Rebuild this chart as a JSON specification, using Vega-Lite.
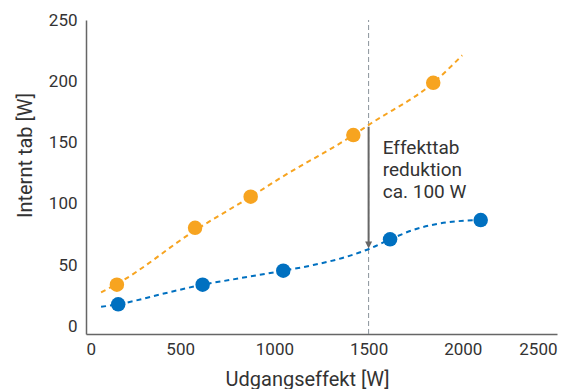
{
  "$schema": "https://vega.github.io/schema/vega-lite/v6.json",
  "width": 471,
  "height": 314,
  "autosize": {"type": "none"},
  "padding": {"left": 86, "top": 20, "right": 20, "bottom": 55},
  "config": {
    "font": "Roboto",
    "view": {"stroke": null},
    "axis": {
      "domainColor": "#666666",
      "domainWidth": 1.5,
      "ticks": false,
      "grid": false,
      "labelFont": "Roboto",
      "labelFontSize": 17,
      "labelColor": "#333333",
      "titleFont": "Roboto",
      "titleFontSize": 20,
      "titleFontWeight": "normal",
      "titleColor": "#333333"
    }
  },
  "datasets": {
    "points": [
      {"series": "Før", "x": 164, "y": 34.2},
      {"series": "Før", "x": 579, "y": 80.6},
      {"series": "Før", "x": 874, "y": 105.9},
      {"series": "Før", "x": 1419, "y": 156.2},
      {"series": "Før", "x": 1843, "y": 198.8},
      {"series": "Efter", "x": 171, "y": 18.2},
      {"series": "Efter", "x": 619, "y": 34.2},
      {"series": "Efter", "x": 1047, "y": 45.6},
      {"series": "Efter", "x": 1614, "y": 71.2},
      {"series": "Efter", "x": 2095, "y": 86.9}
    ],
    "fits": [
      {"series": "Før", "x": 80, "y": 28.0},
      {"series": "Før", "x": 164, "y": 34.8},
      {"series": "Før", "x": 579, "y": 78.5},
      {"series": "Før", "x": 874, "y": 105.9},
      {"series": "Før", "x": 1030, "y": 121},
      {"series": "Før", "x": 1419, "y": 156.2},
      {"series": "Før", "x": 1516, "y": 166},
      {"series": "Før", "x": 1843, "y": 198.8},
      {"series": "Før", "x": 1997, "y": 221.2},
      {"series": "Efter", "x": 80, "y": 16.2},
      {"series": "Efter", "x": 171, "y": 18.2},
      {"series": "Efter", "x": 400, "y": 26.5},
      {"series": "Efter", "x": 619, "y": 34.2},
      {"series": "Efter", "x": 780, "y": 38.5},
      {"series": "Efter", "x": 1047, "y": 45.6},
      {"series": "Efter", "x": 1206, "y": 50.2},
      {"series": "Efter", "x": 1383, "y": 57},
      {"series": "Efter", "x": 1509, "y": 63.8},
      {"series": "Efter", "x": 1614, "y": 71.2},
      {"series": "Efter", "x": 1737, "y": 78.8},
      {"series": "Efter", "x": 1915, "y": 85},
      {"series": "Efter", "x": 2095, "y": 86.9}
    ],
    "marker": [{"x": 1500, "y0": -6, "y1": 250}],
    "arrow": [{"x": 1500, "top": 163, "bottom": 66, "tip": 63.8}],
    "note": [{"x": 1575, "y": 140.7, "text": "Effekttab\nreduktion\nca. 100 W"}]
  },
  "layer": [
    {
      "data": {"name": "marker"},
      "mark": {"type": "rule", "color": "#8a939b", "strokeWidth": 1, "strokeDash": [5, 3]},
      "encoding": {
        "x": {"field": "x", "type": "quantitative", "scale": {"domain": [0, 2500], "nice": false}, "axis": {"values": [0, 500, 1000, 1500, 2000, 2500], "format": "d", "title": "Udgangseffekt [W]", "labelPadding": 7, "titleX": 221, "titleY": 51, "titleBaseline": "alphabetic", "titleAnchor": null, "titleAlign": "center"}},
        "y": {"field": "y0", "type": "quantitative", "scale": {"domain": [-6, 250], "nice": false}, "axis": {"values": [0, 50, 100, 150, 200, 250], "format": "d", "title": "Internt tab [W]", "labelPadding": 9, "titleX": -55, "titleY": 135, "titleAngle": -90, "titleBaseline": "alphabetic", "titleAlign": "center", "titleAnchor": null}},
        "y2": {"field": "y1"}
      }
    },
    {
      "data": {"name": "fits"},
      "mark": {"type": "line", "strokeWidth": 2, "strokeDash": [5, 4], "interpolate": "monotone"},
      "encoding": {
        "x": {"field": "x", "type": "quantitative"},
        "y": {"field": "y", "type": "quantitative"},
        "color": {"field": "series", "type": "nominal", "scale": {"domain": ["Før", "Efter"], "range": ["#F7A420", "#0070C0"]}, "legend": null}
      }
    },
    {
      "data": {"name": "points"},
      "mark": {"type": "circle", "size": 210, "opacity": 1},
      "encoding": {
        "x": {"field": "x", "type": "quantitative"},
        "y": {"field": "y", "type": "quantitative"},
        "color": {"field": "series", "type": "nominal", "legend": null}
      }
    },
    {
      "data": {"name": "arrow"},
      "mark": {"type": "rule", "color": "#666666", "strokeWidth": 2},
      "encoding": {
        "x": {"field": "x", "type": "quantitative"},
        "y": {"field": "top", "type": "quantitative"},
        "y2": {"field": "bottom"}
      }
    },
    {
      "data": {"name": "arrow"},
      "mark": {"type": "point", "shape": "M-1,-2L1,-2L0,0Z", "size": 49, "filled": true, "color": "#666666", "opacity": 1},
      "encoding": {
        "x": {"field": "x", "type": "quantitative"},
        "y": {"field": "tip", "type": "quantitative"}
      }
    },
    {
      "data": {"name": "note"},
      "mark": {"type": "text", "align": "left", "baseline": "alphabetic", "fontSize": 19, "lineHeight": 22, "lineBreak": "\n", "color": "#333333", "font": "Roboto"},
      "encoding": {
        "x": {"field": "x", "type": "quantitative"},
        "y": {"field": "y", "type": "quantitative"},
        "text": {"field": "text"}
      }
    }
  ]
}
